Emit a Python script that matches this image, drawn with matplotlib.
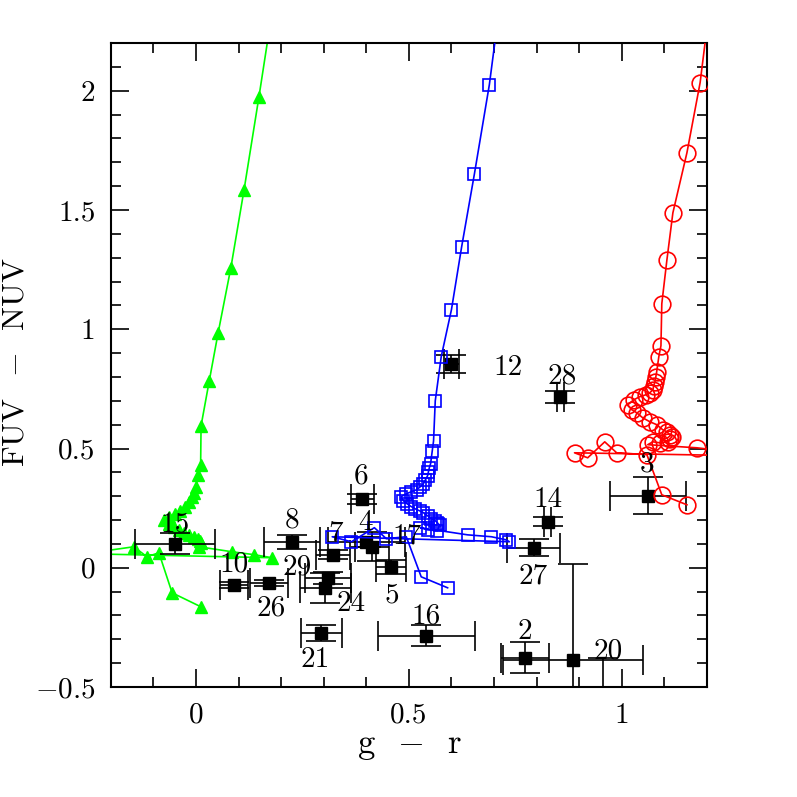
import matplotlib
matplotlib.use('Agg')
import matplotlib.pyplot as plt

plt.rcParams['font.family'] = ['cmr10', 'DejaVu Serif']
plt.rcParams['mathtext.fontset'] = 'cm'
plt.rcParams['axes.unicode_minus'] = False

# observed galaxies: g-r, FUV-NUV and errors
gal_gr = [-0.049, 0.226, 0.089, 0.172, 0.311, 0.304, 0.294, 0.322, 0.400, 0.414,
          0.459, 0.391, 0.541, 0.772, 0.885, 0.955, 0.793, 0.826, 1.061, 0.856, 0.600]
gal_uv = [0.101, 0.109, -0.071, -0.063, -0.042, -0.084, -0.272, 0.055, 0.109, 0.088,
          0.004, 0.289, -0.285, -0.377, -0.386, -0.560, 0.084, 0.193, 0.302, 0.717, 0.855]
gal_egr = [0.094, 0.066, 0.033, 0.044, 0.054, 0.059, 0.048, 0.039, 0.090, 0.040,
           0.035, 0.026, 0.114, 0.056, 0.165, 0.0, 0.063, 0.008, 0.089, 0.008, 0.018]
gal_euv = [0.045, 0.030, 0.012, 0.012, 0.025, 0.063, 0.034, 0.020, 0.020, 0.060,
           0.030, 0.020, 0.043, 0.066, 0.400, 0.180, 0.036, 0.020, 0.078, 0.025, 0.038]

# galaxy ids and where their numbers sit
lab_text = ['15', '8', '10', '26', '29', '24', '21', '7', '4', '17',
            '5', '6', '16', '2', '20', '27', '14', '3', '28', '12']
lab_x = [-0.049, 0.226, 0.089, 0.176, 0.238, 0.365, 0.280, 0.327, 0.398, 0.496,
         0.459, 0.388, 0.541, 0.772, 0.967, 0.791, 0.826, 1.059, 0.859, 0.732]
lab_y = [0.184, 0.197, 0.013, -0.172, 0.000, -0.151, -0.386, 0.143, 0.189, 0.130,
         -0.117, 0.382, -0.205, -0.268, -0.352, -0.038, 0.285, 0.432, 0.801, 0.839]

# model tracks
green_gr = [0.183, 0.148, 0.113, 0.082, 0.052, 0.031, 0.012, 0.011, 0.005,
            0.000, -0.005, -0.009, -0.016, -0.026, -0.038, -0.049, -0.064, -0.075,
            -0.064, -0.052, -0.040, -0.028, -0.016, -0.005, 0.005, 0.009, 0.012, 0.007,
            0.085, 0.136, 0.179, -0.261, -0.146, -0.115, -0.087, -0.056, 0.012]
green_uv = [2.38, 1.975, 1.585, 1.258, 0.984, 0.781, 0.595, 0.432, 0.390,
            0.340, 0.314, 0.298, 0.277, 0.256, 0.239, 0.226, 0.214, 0.201,
            0.184, 0.172, 0.159, 0.147, 0.138, 0.130, 0.122, 0.113, 0.105, 0.088,
            0.067, 0.055, 0.042, 0.059, 0.088, 0.046, 0.063, -0.105, -0.164]

blue_gr = [0.720, 0.689, 0.654, 0.624, 0.600, 0.576, 0.562, 0.558, 0.555,
           0.551, 0.548, 0.546, 0.544, 0.539, 0.534, 0.527, 0.518, 0.506, 0.494, 0.482,
           0.487, 0.496, 0.506, 0.515, 0.525, 0.534, 0.544, 0.553, 0.562, 0.567, 0.569, 0.572,
           0.567, 0.544, 0.527, 0.638, 0.694, 0.729, 0.736,
           0.320, 0.365, 0.419, 0.447, 0.494, 0.529, 0.591]
blue_uv = [2.45, 2.025, 1.652, 1.346, 1.082, 0.885, 0.700, 0.532, 0.491,
           0.436, 0.419, 0.403, 0.386, 0.369, 0.352, 0.340, 0.327, 0.319, 0.310, 0.298,
           0.281, 0.268, 0.256, 0.247, 0.239, 0.231, 0.218, 0.205, 0.197, 0.189, 0.184, 0.180,
           0.155, 0.159, 0.168, 0.138, 0.130, 0.117, 0.109,
           0.130, 0.109, 0.168, 0.122, 0.130, -0.038, -0.084]

red_gr = [1.214, 1.184, 1.153, 1.120, 1.106, 1.094, 1.092, 1.087, 1.082, 1.080,
          1.078, 1.075, 1.073, 1.066, 1.056, 1.042, 1.028, 1.014, 1.024, 1.035,
          1.049, 1.066, 1.082, 1.096, 1.106, 1.113, 1.118, 1.113, 1.108, 1.089,
          1.073, 1.061, 1.176, 1.235, 1.271, 1.278,
          0.889, 0.920, 0.960, 0.988, 1.059, 1.094, 1.153]
red_uv = [2.465, 2.034, 1.740, 1.488, 1.291, 1.107, 0.931, 0.885, 0.822, 0.801,
          0.780, 0.763, 0.746, 0.734, 0.725, 0.717, 0.704, 0.683, 0.662, 0.650,
          0.629, 0.612, 0.600, 0.579, 0.570, 0.558, 0.549, 0.541, 0.528, 0.524,
          0.528, 0.516, 0.503, 0.491, 0.478, 0.470,
          0.482, 0.461, 0.528, 0.482, 0.474, 0.306, 0.264]

y_ticks = [-0.5, 0, 0.5, 1, 1.5, 2]
y_ticklabels = ['$-0.5$', '0', '0.5', '1', '1.5', '2']
x_ticks = [0, 0.5, 1]
x_ticklabels = ['0', '0.5', '1']

fig = plt.figure(figsize=(7.97, 7.97), dpi=100)
ax = fig.add_axes([0.139, 0.138, 0.748, 0.808])

ax.plot(green_gr, green_uv, '-^', color='#00ff00', ms=9, lw=1.2, zorder=2)
ax.errorbar(gal_gr, gal_uv, xerr=gal_egr, yerr=gal_euv, fmt='s', color='black',
            ms=8.5, capsize=10.5, elinewidth=1.2, capthick=1.2, zorder=3)
ax.plot(blue_gr, blue_uv, '-s', color='#0000ff', mfc='none', mew=1.2, ms=9, lw=1.2, zorder=4)
ax.plot(red_gr, red_uv, '-o', color='#ff0000', mfc='none', mew=1.2, ms=12, lw=1.2, zorder=4)

for t, lx, ly in zip(lab_text, lab_x, lab_y):
    ax.text(lx, ly, t, fontsize=21, ha='center', va='center', zorder=5)

ax.set_xlim(-0.2, 1.2)
ax.set_ylim(-0.5, 2.2)
ax.set_xticks(x_ticks)
ax.set_xticklabels(x_ticklabels)
ax.set_yticks(y_ticks)
ax.set_yticklabels(y_ticklabels)
ax.xaxis.set_minor_locator(matplotlib.ticker.MultipleLocator(0.1))
ax.yaxis.set_minor_locator(matplotlib.ticker.MultipleLocator(0.1))
ax.tick_params(which='both', direction='in', top=True, right=True, width=1.2,
               labelsize=21)
ax.tick_params(which='major', length=13, pad=11)
ax.tick_params(which='minor', length=7)
for s in ax.spines.values():
    s.set_linewidth(1.5)

ax.set_xlabel('g  $-$  r', fontsize=25)
ax.set_ylabel('FUV  $-$  NUV', fontsize=23)
ax.xaxis.set_label_coords(0.502, -0.068)
ax.yaxis.set_label_coords(-0.137, 0.505)

fig.savefig('out.png', dpi=100)
